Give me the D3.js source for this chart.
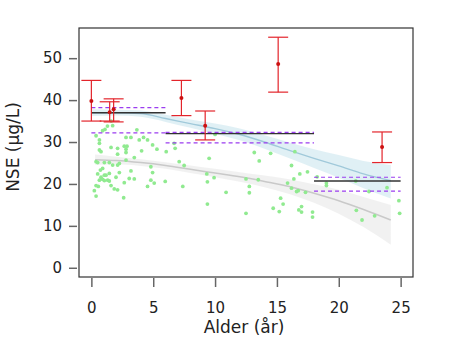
<!DOCTYPE html>
<html><head><meta charset="utf-8">
<script src="https://cdn.jsdelivr.net/npm/d3@7"></script>
<style>body{margin:0;background:#fff}svg{display:block}</style>
</head><body>
<svg id="c" width="453" height="355"></svg>
<script>
// ---- data ----
const ptAge = [1.72,1.10,0.91,0.38,0.65,0.65,2.80,3.20,3.68,3.87,4.22,4.54,2.66,2.88,2.80,2.80,1.59,2.12,0.65,0.78,4.95,5.30,4.06,2.12,3.47,0.38,0.51,1.05,1.45,1.72,2.12,2.26,2.80,0.91,0.73,0.51,1.05,1.45,1.18,4.81,4.95,3.20,2.26,1.99,3.06,3.47,2.66,4.81,5.08,0.78,0.91,1.05,1.32,0.65,1.45,0.38,0.56,1.59,1.85,2.12,0.24,0.38,2.61,4.54,1.60,1.30,
  5.97,6.05,6.69,6.77,7.10,7.50,7.39,9.33,9.38,9.92,9.52,9.38,10.89,10.00,12.50,12.77,12.77,12.50,13.17,13.57,13.49,14.49,14.70,15.19,15.30,15.50,15.86,16.18,16.45,16.37,16.18,16.59,16.72,16.85,17.31,17.47,16.77,16.99,16.99,17.88,17.88,18.25,19.00,19.00,21.37,22.44,21.42,21.88,22.90,23.90,24.86,24.92];
const ptVal = [33.9,33.0,32.7,31.5,30.5,29.7,31.1,31.1,32.9,30.5,31.1,30.5,29.0,29.0,28.3,27.5,28.7,28.5,28.1,27.7,29.3,28.3,27.9,27.1,26.3,25.3,25.1,25.1,25.1,24.5,24.5,24.9,25.7,23.7,23.3,22.4,22.1,22.5,22.1,24.1,22.7,23.1,22.7,21.6,21.3,21.2,20.3,20.9,20.2,21.6,21.1,20.8,20.9,20.9,20.7,19.6,19.4,19.6,18.8,18.6,18.4,17.1,16.7,19.4,35.0,33.8,
  20.6,27.7,29.7,28.5,25.3,24.4,19.4,22.4,20.5,21.5,26.1,15.2,18.0,31.8,21.2,19.4,17.9,13.0,27.5,25.5,21.0,27.3,14.2,13.4,16.6,15.2,20.2,24.4,27.7,21.2,19.0,18.2,18.4,22.4,18.0,22.9,13.8,14.6,13.3,13.3,12.1,21.7,20.2,19.6,20.7,18.2,13.7,11.4,12.4,19.1,16.0,13.0];

const blueAge = [0,2,4,6,8,10,12,14,16,18,20,22,24.2];
const blueFit = [37.0,37.0,36.8,35.6,34.4,33.2,31.8,30.0,28.0,26.1,24.3,22.4,20.8];
const blueLo  = [36.2,36.3,36.0,34.8,33.4,32.0,30.4,28.4,26.1,23.8,21.5,19.0,16.5];
const blueHi  = [37.8,37.7,37.5,36.5,35.4,34.4,33.2,31.6,29.9,28.3,26.9,25.5,24.5];

const grayAge = [0.3,2,4,6,8,10,12,14,16,18,20,22,24.2];
const grayFit = [25.8,25.6,25.1,24.4,23.5,22.6,21.7,20.6,19.4,17.8,16.0,13.9,11.4];
const grayLo  = [24.6,24.7,24.3,23.6,22.6,21.6,20.5,19.2,17.6,15.5,12.9,9.7,5.5];
const grayHi  = [27.0,26.5,25.9,25.2,24.4,23.6,22.8,22.0,21.1,19.9,18.6,16.9,15.0];

const segStart = [0,6,18];
const segEnd   = [6,18,25];
const segMean  = [37.0,32.0,20.7];
const segUpper = [38.2,32.3,21.6];
const segLower = [32.2,29.8,18.3];

const ebAge  = [0,1.48,1.80,7.28,9.2,15.1,23.5];
const ebMean = [39.8,37.1,37.8,40.5,33.9,48.6,28.8];
const ebLow  = [35.0,35.0,34.8,36.3,30.5,41.9,25.1];
const ebHigh = [44.7,39.6,40.3,44.7,37.4,55.0,32.4];

const xTicks = [0,5,10,15,20,25];
const yTicks = [0,10,20,30,40,50];
const xLabel = "Alder (år)";
const yLabel = "NSE (µg/L)";

// ---- chart ----
const svg = d3.select("#c");
const L=79, R=413, T=28, B=277;
const x = d3.scaleLinear().domain([-1,26]).range([L,R]);
const y = d3.scaleLinear().domain([-2.2,57.2]).range([B,T]);
const font = "DejaVu Sans, Verdana, sans-serif";

svg.append("clipPath").attr("id","pc").append("rect")
  .attr("x",L).attr("y",T).attr("width",R-L).attr("height",B-T);
const g = svg.append("g").attr("clip-path","url(#pc)");

function band(ages, lo, hi, fill){
  const d = ages.map((a,i)=>({a, lo:lo[i], hi:hi[i]}));
  g.append("path").datum(d)
    .attr("d", d3.area().x(p=>x(p.a)).y0(p=>y(p.lo)).y1(p=>y(p.hi)).curve(d3.curveMonotoneX))
    .attr("fill",fill);
}
function fitLine(ages, v, stroke, w){
  const d = ages.map((a,i)=>({a, v:v[i]}));
  g.append("path").datum(d)
    .attr("d", d3.line().x(p=>x(p.a)).y(p=>y(p.v)).curve(d3.curveMonotoneX))
    .attr("fill","none").attr("stroke",stroke).attr("stroke-width",w);
}
band(grayAge, grayLo, grayHi, "rgba(200,200,200,0.25)");
band(blueAge, blueLo, blueHi, "rgba(173,216,230,0.38)");
fitLine(grayAge, grayFit, "#c9c9c9", 1.5);
fitLine(blueAge, blueFit, "#a0c9da", 1.4);

// points
g.selectAll("circle.pt").data(ptAge.map((a,i)=>({a, v:ptVal[i]}))).enter()
  .append("circle").attr("class","pt")
  .attr("cx",d=>x(d.a)).attr("cy",d=>y(d.v)).attr("r",1.9)
  .attr("fill","#90ea90");

// horizontal segments
const segs = segStart.map((s,i)=>({s, e:segEnd[i], m:segMean[i], u:segUpper[i], l:segLower[i]}));
segs.forEach(d=>{
  g.append("line").attr("x1",x(d.s)).attr("x2",x(d.e)).attr("y1",y(d.m)).attr("y2",y(d.m))
    .attr("stroke","#333").attr("stroke-width",1.4);
  [d.u,d.l].forEach(v=>{
    g.append("line").attr("x1",x(d.s)).attr("x2",x(d.e)).attr("y1",y(v)).attr("y2",y(v))
      .attr("stroke","#9b3df0").attr("stroke-width",1.2).attr("stroke-dasharray","4,3");
  });
});

// error bars
const red = "#e3242b";
const eb = ebAge.map((a,i)=>({a, m:ebMean[i], lo:ebLow[i], hi:ebHigh[i]}));
const ebG = svg.append("g");
eb.forEach(d=>{
  const cx = x(d.a);
  ebG.append("line").attr("x1",cx).attr("x2",cx).attr("y1",y(d.lo)).attr("y2",y(d.hi))
    .attr("stroke",red).attr("stroke-width",1.2);
  [d.lo,d.hi].forEach(v=>{
    ebG.append("line").attr("x1",cx-10).attr("x2",cx+10).attr("y1",y(v)).attr("y2",y(v))
      .attr("stroke",red).attr("stroke-width",1.2);
  });
  ebG.append("circle").attr("cx",cx).attr("cy",y(d.m)).attr("r",2).attr("fill","#cc1111");
});

// frame
svg.append("rect").attr("x",L).attr("y",T).attr("width",R-L).attr("height",B-T)
  .attr("fill","none").attr("stroke","#333").attr("stroke-width",1.2);

// axes
const ya = svg.append("g").attr("transform",`translate(${L-2},0)`)
  .call(d3.axisLeft(y).tickValues(yTicks).tickSize(8).tickPadding(7));
const xa = svg.append("g").attr("transform",`translate(0,${B+1})`)
  .call(d3.axisBottom(x).tickValues(xTicks).tickSize(9).tickPadding(15));
[ya,xa].forEach(a=>{
  a.select(".domain").remove();
  a.selectAll(".tick line").attr("stroke","#666").attr("stroke-width",1.5);
  a.selectAll(".tick text").attr("fill","#222").style("font-family",font).style("font-size","15px");
});

svg.append("text").attr("x",(L+R)/2-2).attr("y",333).attr("text-anchor","middle")
  .style("font-family",font).style("font-size","17px").attr("fill","#222").text(xLabel);
svg.append("text").attr("transform","translate(19,147) rotate(-90)").attr("text-anchor","middle")
  .style("font-family",font).style("font-size","17px").attr("fill","#222").text(yLabel);
</script>
</body></html>
